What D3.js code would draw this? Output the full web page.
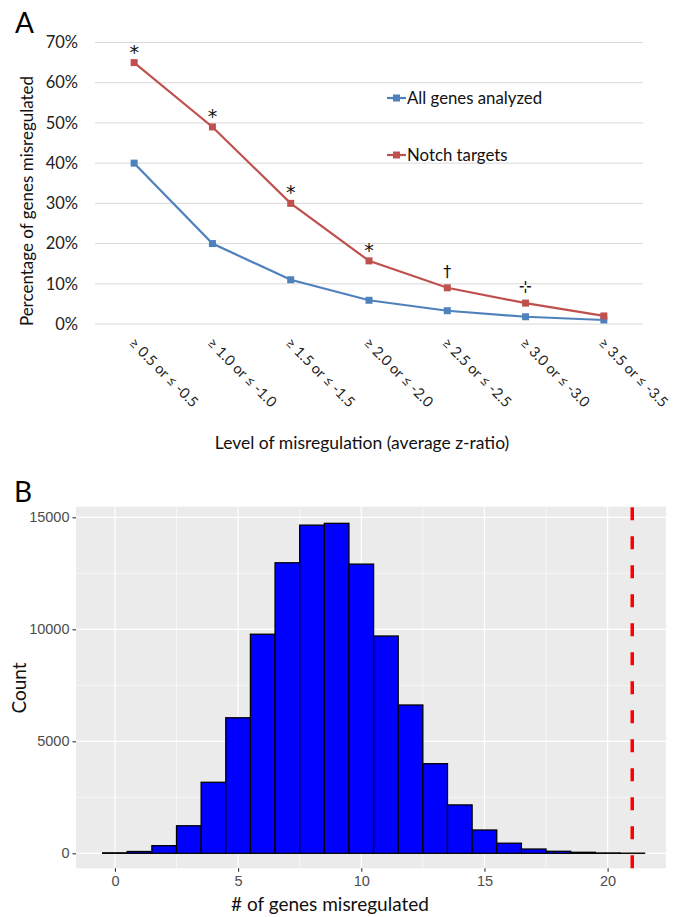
<!DOCTYPE html>
<html>
<head>
<meta charset="utf-8">
<script src="https://cdn.jsdelivr.net/npm/d3@7"></script>
<style>
  html, body { margin: 0; padding: 0; background: #fff; }
  svg { display: block; }
</style>
</head>
<body>
<svg id="chart" width="673" height="917"></svg>
<script>
// ---------- Panel A data ----------
const categoriesA = ["≥ 0.5 or ≤ -0.5", "≥ 1.0 or ≤ -1.0", "≥ 1.5 or ≤ -1.5", "≥ 2.0 or ≤ -2.0", "≥ 2.5 or ≤ -2.5", "≥ 3.0 or ≤ -3.0", "≥ 3.5 or ≤ -3.5"];
const allGenes = [0.40, 0.20, 0.11, 0.059, 0.033, 0.018, 0.010];
const notchTargets = [0.65, 0.49, 0.30, 0.157, 0.090, 0.052, 0.020];
const significance = ["*", "*", "*", "*", "†", "⊹", ""];
const yTicksA = [0, 0.1, 0.2, 0.3, 0.4, 0.5, 0.6, 0.7];
const seriesNamesA = ["All genes analyzed", "Notch targets"];

// ---------- Panel B data ----------
const binCenters = [0, 1, 2, 3, 4, 5, 6, 7, 8, 9, 10, 11, 12, 13, 14, 15, 16, 17, 18, 19, 20, 21];
const binCounts = [20, 80, 340, 1230, 3170, 6050, 9780, 12970, 14650, 14730, 12910, 9700, 6620, 4000, 2160, 1040, 450, 190, 90, 45, 15, 5];
const observedValue = 21;
const xTicksB = [0, 5, 10, 15, 20];
const yTicksB = [0, 5000, 10000, 15000];

const svg = d3.select("#chart");
const FONT = "Lato, 'Open Sans', sans-serif";
const BLUE = "#4f81bd", RED = "#c0504d";

// ================= PANEL A =================
const gA = svg.append("g");
const xA = d3.scaleBand().domain(categoriesA).range([95, 643]).padding(0);
const cx = d => xA(d) + xA.bandwidth() / 2;
const yA = d3.scaleLinear().domain([0, 0.7]).range([324, 42.5]);

gA.append("text").attr("x", 15).attr("y", 33).attr("font-family", FONT)
  .attr("font-size", 28).text("A");

// gridlines
gA.selectAll("line.grid").data(yTicksA).join("line")
  .attr("x1", 95).attr("x2", 643)
  .attr("y1", d => yA(d)).attr("y2", d => yA(d))
  .attr("stroke", "#d9d9d9").attr("stroke-width", 1);

// y tick labels via axis
const axA = d3.axisLeft(yA).tickValues(yTicksA).tickFormat(d3.format(".0%")).tickSize(0).tickPadding(0);
const axAg = gA.append("g").attr("transform", "translate(78,0)").call(axA);
axAg.select(".domain").remove();
axAg.selectAll("text").attr("font-family", FONT).attr("font-size", 16.5).attr("fill", "#222");

// x tick labels rotated
const axXA = gA.append("g");
axXA.selectAll("text").data(categoriesA).join("text")
  .attr("transform", d => `translate(${cx(d) - 6},${344}) rotate(45)`)
  .attr("font-family", FONT).attr("font-size", 14.5).attr("fill", "#222")
  .text(d => d);

// axis titles
gA.append("text").attr("transform", "translate(33,201) rotate(-90)")
  .attr("text-anchor", "middle").attr("font-family", FONT).attr("font-size", 17)
  .attr("fill", "#111").text("Percentage of genes misregulated");
gA.append("text").attr("x", 362).attr("y", 449).attr("text-anchor", "middle")
  .attr("font-family", FONT).attr("font-size", 17.5).attr("fill", "#111")
  .text("Level of misregulation (average z-ratio)");

// lines
const lineA = d3.line().x((d, i) => cx(categoriesA[i])).y(d => yA(d));
[[allGenes, BLUE], [notchTargets, RED]].forEach(([vals, col]) => {
  gA.append("path").datum(vals).attr("d", lineA).attr("fill", "none")
    .attr("stroke", col).attr("stroke-width", 2.2);
  gA.selectAll(null).data(vals).join("rect")
    .attr("x", (d, i) => cx(categoriesA[i]) - 3.5).attr("y", d => yA(d) - 3.5)
    .attr("width", 7).attr("height", 7).attr("fill", col);
});

// significance marks
gA.selectAll("text.sig").data(significance).join("text")
  .attr("class", "sig")
  .attr("x", (d, i) => cx(categoriesA[i]))
  .attr("y", (d, i) => yA(notchTargets[i]) - (d === "*" ? 4 : 11))
  .attr("text-anchor", "middle")
  .attr("font-family", "'DejaVu Sans', sans-serif")
  .attr("font-size", d => d === "*" ? 19 : 16).attr("fill", "#111")
  .text(d => d);

// legend
const legY = [98, 155];
[BLUE, RED].forEach((col, i) => {
  const lg = gA.append("g");
  lg.append("line").attr("x1", 387).attr("x2", 406).attr("y1", legY[i]).attr("y2", legY[i])
    .attr("stroke", col).attr("stroke-width", 2.2);
  lg.append("rect").attr("x", 393).attr("y", legY[i] - 3.5).attr("width", 7).attr("height", 7).attr("fill", col);
  lg.append("text").attr("x", 407).attr("y", legY[i]).attr("dy", "0.35em")
    .attr("font-family", FONT).attr("font-size", 16.8).attr("fill", "#111").text(seriesNamesA[i]);
});

// ================= PANEL B =================
const gB = svg.append("g");
const xB = d3.scaleLinear().domain([-1.58, 22.37]).range([76, 666]);
const yB = d3.scaleLinear().domain([-670, 15473]).range([868.3, 506.7]);

gB.append("text").attr("x", 14).attr("y", 502).attr("font-family", FONT)
  .attr("font-size", 28).text("B");

gB.append("rect").attr("x", 76).attr("y", 506.7).attr("width", 590).attr("height", 868.3 - 506.7)
  .attr("fill", "#ebebeb");

const minorY = [2500, 7500, 12500], minorX = [2.5, 7.5, 12.5, 17.5];
gB.selectAll(null).data(minorY).join("line")
  .attr("x1", 76).attr("x2", 666).attr("y1", d => yB(d)).attr("y2", d => yB(d))
  .attr("stroke", "#fff").attr("stroke-width", 0.6);
gB.selectAll(null).data(minorX).join("line")
  .attr("y1", 506.7).attr("y2", 868.3).attr("x1", d => xB(d)).attr("x2", d => xB(d))
  .attr("stroke", "#fff").attr("stroke-width", 0.6);
gB.selectAll(null).data(yTicksB).join("line")
  .attr("x1", 76).attr("x2", 666).attr("y1", d => yB(d)).attr("y2", d => yB(d))
  .attr("stroke", "#fff").attr("stroke-width", 1.2);
gB.selectAll(null).data(xTicksB).join("line")
  .attr("y1", 506.7).attr("y2", 868.3).attr("x1", d => xB(d)).attr("x2", d => xB(d))
  .attr("stroke", "#fff").attr("stroke-width", 1.2);

// bars
gB.selectAll("rect.bar").data(binCenters).join("rect").attr("class", "bar")
  .attr("x", d => xB(d - 0.5)).attr("width", d => xB(d + 0.5) - xB(d - 0.5))
  .attr("y", (d, i) => yB(binCounts[i])).attr("height", (d, i) => yB(0) - yB(binCounts[i]))
  .attr("fill", "#0000ff").attr("stroke", "#000").attr("stroke-width", 1.3);

// red dashed line
gB.append("line").attr("x1", xB(observedValue)).attr("x2", xB(observedValue))
  .attr("y1", 868.3).attr("y2", 506.7)
  .attr("stroke", "#ff0000").attr("stroke-width", 3.5).attr("stroke-dasharray", "13,16");

// axes
const axYB = d3.axisLeft(yB).tickValues(yTicksB).tickFormat(d3.format("d")).tickSize(3.5).tickPadding(3);
const axYBg = gB.append("g").attr("transform", "translate(76,0)").call(axYB);
const axXB = d3.axisBottom(xB).tickValues(xTicksB).tickFormat(d3.format("d")).tickSize(3.5).tickPadding(4);
const axXBg = gB.append("g").attr("transform", "translate(0,868.3)").call(axXB);
[axYBg, axXBg].forEach(g => {
  g.select(".domain").remove();
  g.selectAll("line").attr("stroke", "#333").attr("stroke-width", 1.1);
  g.selectAll("text").attr("font-family", "'Liberation Sans', Arial, sans-serif")
    .attr("font-size", 14.5).attr("fill", "#4d4d4d");
});

gB.append("text").attr("transform", "translate(26,688) rotate(-90)")
  .attr("text-anchor", "middle").attr("font-family", FONT).attr("font-size", 19)
  .attr("fill", "#111").text("Count");
gB.append("text").attr("x", 330).attr("y", 911).attr("text-anchor", "middle")
  .attr("font-family", FONT).attr("font-size", 19).attr("fill", "#111")
  .text("# of genes misregulated");
</script>
</body>
</html>
